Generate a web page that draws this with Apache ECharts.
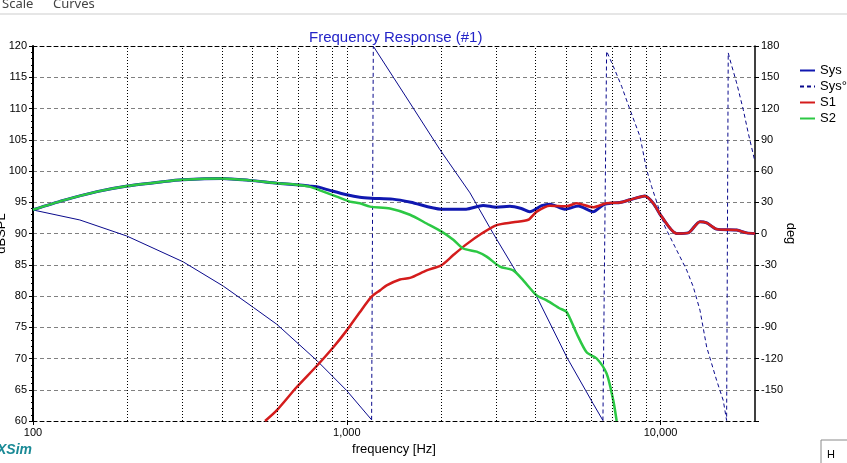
<!DOCTYPE html>
<html>
<head>
<meta charset="utf-8">
<script src="https://cdn.jsdelivr.net/npm/echarts@6/dist/echarts.min.js"></script>
<style>
html,body{margin:0;padding:0;background:#fff;}
#chart{width:847px;height:463px;}
</style>
</head>
<body>
<div id="chart"></div>
<script>
// ---- data ----
const sysMag = [[100,93.8],[125,95.3],[160,96.7],[200,97.6],[260,98.3],[300,98.6],[400,98.8],[490,98.5],[600,98.05],[690,97.8],[760,97.6],[800,97.5],[884,96.9],[1000,96.2],[1100,95.8],[1200,95.65],[1400,95.5],[1600,95.0],[2000,93.9],[2400,93.9],[2720,94.5],[3000,94.2],[3310,94.35],[3600,94.0],[3830,93.5],[4180,94.45],[4440,94.7],[4960,93.9],[5470,94.4],[6100,93.5],[6570,94.6],[7070,94.9],[7420,94.95],[8000,95.4],[8920,96.0],[9480,94.85],[10080,92.7],[11250,90.0],[12250,90.1],[13350,91.9],[14030,91.7],[15090,90.7],[17480,90.55],[18810,90.1],[20000,90.0]];
const s1Mag = [[549,60.0],[598,61.7],[692,65.4],[802,68.8],[906,71.8],[1000,74.5],[1100,77.4],[1200,79.9],[1276,80.9],[1340,81.7],[1477,82.65],[1590,82.9],[1797,84.1],[2006,84.95],[2185,86.55],[2410,88.3],[2691,90.0],[3004,91.35],[3393,91.8],[3788,92.2],[4030,93.5],[4441,94.45],[5021,94.35],[5403,94.85],[6102,94.2],[6732,94.85],[7424,94.95],[7991,95.4],[8918,96.0],[9478,94.85],[10081,92.7],[11255,90.0],[12255,90.1],[13355,91.9],[14029,91.7],[15093,90.7],[17477,90.55],[18814,90.1],[20000,90.0]];
const s2Mag = [[100,93.8],[125,95.3],[160,96.7],[200,97.6],[260,98.3],[300,98.6],[400,98.8],[490,98.5],[600,98.05],[690,97.8],[760,97.5],[842,96.7],[929,95.9],[1024,95.1],[1100,94.85],[1186,94.3],[1373,94.0],[1590,93.0],[1797,91.6],[2006,90.3],[2185,89.0],[2351,87.6],[2594,87.1],[2791,86.3],[3077,84.7],[3393,84.1],[3651,82.5],[4030,80.1],[4336,79.3],[4779,78.0],[5021,77.45],[5403,74.0],[5813,71.0],[6257,70.0],[6732,67.6],[7068,63.3],[7247,60.0]];
// phase, portions that look solid in the reference ('-' breaks the line)
const sysPhaseSolid = [[100,22.6],[141,13.0],[199,-2.4],[301,-27.2],[404,-50.5],[504,-71.0],[598,-87.1],[802,-121.8],[999,-150.7],[1200,-178.9],[1205,'-'],[1215,179.8],[1590,125.3],[1982,80.4],[2470,39],[2922,0.5],[3486,-38],[4037,-61],[5031,-119],[6089,-163],[6552,-179.5]];
// phase, portions that look dashed (wraps and the top octave)
const sysPhaseDashed = [[1200,-178.9],[1215,179.8],[1220,'-'],[6552,-179.5],[6732,175],[7068,160.6],[7516,141.3],[7991,118.9],[8598,93.2],[9031,61.1],[9367,45],[9833,25.8],[10328,6.5],[11114,-12.7],[12113,-35.1],[12715,-51.2],[13355,-73.6],[14029,-109],[15093,-141],[15843,-160.3],[16240,-179.5],[16433,173.5],[16640,167],[17477,144.6],[18348,118.9],[19034,96.4],[19990,69.1]];
const xGridFreqs = [200,300,400,500,600,700,800,900,1000,2000,3000,4000,5000,6000,7000,8000,9000,10000];
const legendNames = ['Sys','Sys°','S1','S2'];

const chart = echarts.init(document.getElementById('chart'), null, {renderer:'canvas'});
const FONT = 'Liberation Sans, Arial, sans-serif';

chart.setOption({
  animation:false,
  backgroundColor:'#ffffff',
  textStyle:{fontFamily:FONT},
  title:{
    text:'Frequency Response (#1)',
    left:304, top:25,
    textStyle:{fontFamily:FONT,fontSize:15,fontWeight:'normal',color:'#2424c8'}
  },
  legend:{
    orient:'vertical', left:799, top:64, padding:0,
    data:legendNames,
    itemWidth:15, itemHeight:10, itemGap:3,
    itemStyle:{opacity:0},
    textStyle:{fontFamily:FONT,fontSize:13,color:'#000'},
    selectedMode:false
  },
  grid:{left:33, right:92, top:46, bottom:42, containLabel:false, outerBoundsMode:'none'},
  xAxis:[{
    type:'log', logBase:10, min:100, max:20000,
    position:'bottom',
    axisLine:{show:true,onZero:false,lineStyle:{color:'#000',width:1,type:[4,3]}},
    axisTick:{show:true,length:4,lineStyle:{color:'#000'}},
    axisLabel:{fontFamily:FONT,fontSize:11,color:'#000',margin:6,showMaxLabel:false,
      formatter:function(v){return String(Math.round(v)).replace(/\B(?=(\d{3})+(?!\d))/g, ',');}},
    splitLine:{show:false},
    name:'frequency [Hz]', nameLocation:'middle', nameGap:19,
    nameTextStyle:{fontFamily:FONT,fontSize:13,color:'#000'}
  },{
    type:'log', logBase:10, min:100, max:20000,
    position:'top',
    axisLine:{show:true,onZero:false,lineStyle:{color:'#000',width:1,type:[4,3]}},
    axisTick:{show:false}, axisLabel:{show:false}, splitLine:{show:false}
  }],
  yAxis:[{
    type:'value', min:60, max:120, interval:5, position:'left',
    axisLine:{show:true,onZero:false,lineStyle:{color:'#000',width:2}},
    axisTick:{show:true,length:4,lineStyle:{color:'#000'}},
    minorTick:{show:true,splitNumber:5,length:2,lineStyle:{color:'#000'}},
    axisLabel:{fontFamily:FONT,fontSize:11,color:'#000',margin:6},
    splitLine:{show:true,lineStyle:{color:'#808080',width:1,type:[4,3]}},
    name:'dBSPL', nameLocation:'middle', nameRotate:90, nameGap:25, nameMoveOverlap:false,
    nameTextStyle:{fontFamily:FONT,fontSize:13,color:'#000'}
  },{
    type:'value', min:-180, max:180, interval:30, position:'right',
    axisLine:{show:true,onZero:false,lineStyle:{color:'#000',width:1.5}},
    axisTick:{show:true,length:4,lineStyle:{color:'#000'}},
    axisLabel:{fontFamily:FONT,fontSize:11,color:'#000',margin:6,
      formatter:function(v){return v===-180?'':String(v);}},
    splitLine:{show:false},
    name:'deg', nameLocation:'middle', nameRotate:-90, nameGap:29, nameMoveOverlap:false,
    nameTextStyle:{fontFamily:FONT,fontSize:13,color:'#000'}
  }],
  series:[
    {
      name:'__grid', type:'line', data:[], silent:true, z:1,
      markLine:{
        silent:true, symbol:['none','none'], label:{show:false},
        lineStyle:{color:'#000',width:1,type:[1,2]},
        emphasis:{disabled:true},
        data:xGridFreqs.map(function(f){return {xAxis:f};})
      }
    },
    {
      name:'Sys°', type:'line', yAxisIndex:1, data:sysPhaseDashed,
      symbol:'none', connectNulls:false,
      lineStyle:{color:'#0a0a8c',width:1,type:[4,3]}, itemStyle:{color:'#0a0a8c'}, z:2
    },
    {
      name:'Sys°', type:'line', yAxisIndex:1, data:sysPhaseSolid,
      symbol:'none', connectNulls:false,
      lineStyle:{color:'#0a0a8c',width:1}, itemStyle:{color:'#0a0a8c'}, z:2
    },
    {
      name:'Sys', type:'line', data:sysMag, symbol:'none', smooth:0.25,
      lineStyle:{color:'#1018b0',width:3}, itemStyle:{color:'#1018b0'}, z:3
    },
    {
      name:'S1', type:'line', data:s1Mag, symbol:'none', smooth:0.25,
      lineStyle:{color:'#d41c1c',width:2.5}, itemStyle:{color:'#d41c1c'}, z:3
    },
    {
      name:'S2', type:'line', data:s2Mag, symbol:'none', smooth:0.25,
      lineStyle:{color:'#2cc844',width:2.5}, itemStyle:{color:'#2cc844'}, z:3
    }
  ],
  graphic:[
    {type:'line', shape:{x1:0,y1:14,x2:847,y2:14}, style:{stroke:'#e6e6e6',lineWidth:2}, silent:true},
    {type:'text', left:2, top:-2, style:{text:'Scale', fontFamily:'Segoe UI, Noto Sans, sans-serif', fontSize:13, fill:'#444'}},
    {type:'text', left:53, top:-2, style:{text:'Curves', fontFamily:'Segoe UI, Noto Sans, sans-serif', fontSize:13, fill:'#444'}},
    {type:'text', left:-3, top:443, style:{text:'XSim', fontFamily:FONT, fontSize:14, fontWeight:'bold', fontStyle:'italic', fill:'#1a8a96'}},
    {type:'rect', shape:{x:821,y:440,width:30,height:30}, style:{fill:'#fff',stroke:'#8a8a8a',lineWidth:1}},
    {type:'text', left:827, top:449, style:{text:'H', fontFamily:FONT, fontSize:11, fill:'#000'}}
  ]
});
</script>
</body>
</html>
